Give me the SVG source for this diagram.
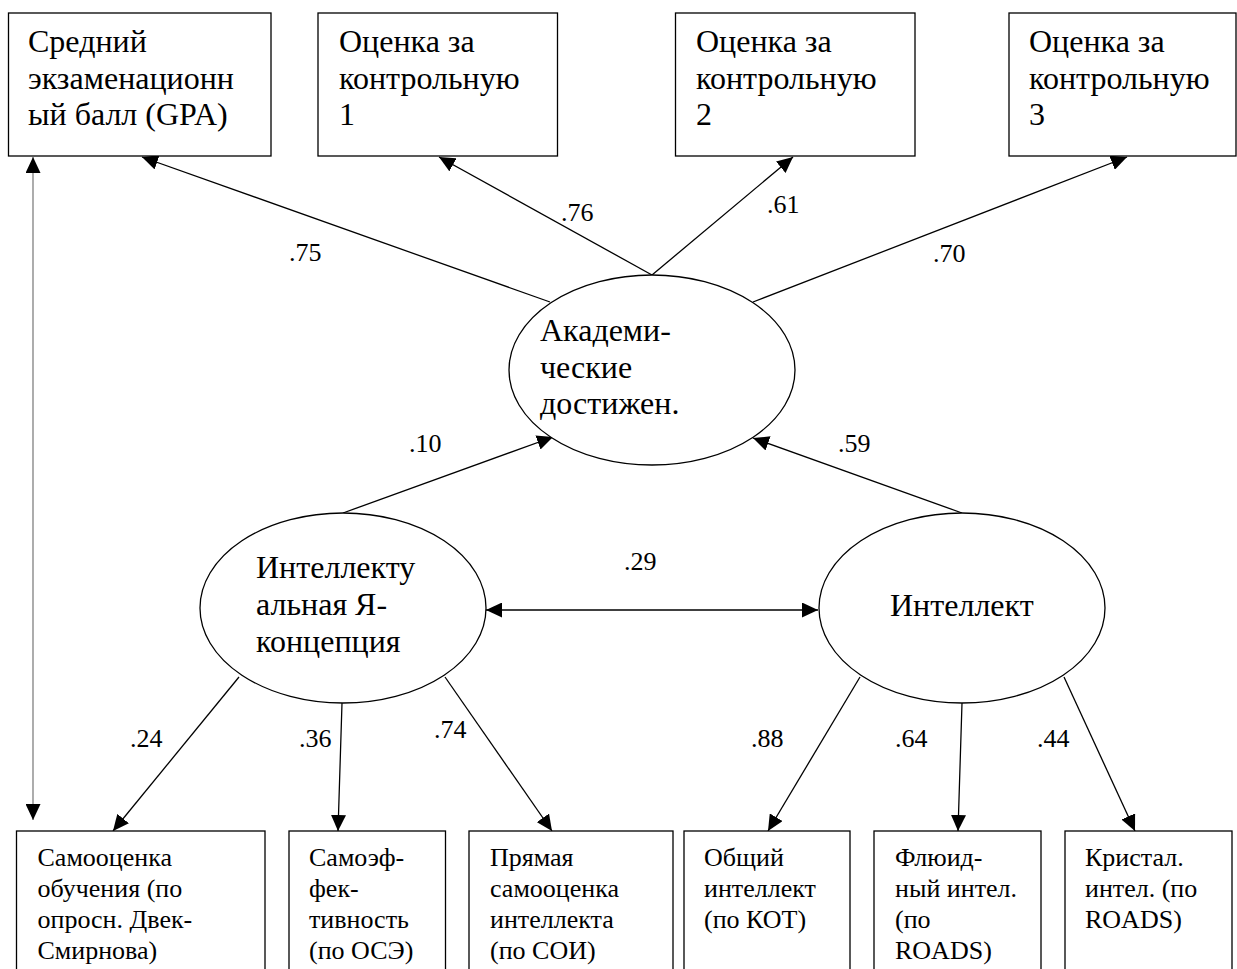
<svg xmlns="http://www.w3.org/2000/svg" width="1237" height="969" viewBox="0 0 1237 969">
<style>
.box{fill:#fff;stroke:#000;stroke-width:1.3}
.ell{fill:#fff;stroke:#000;stroke-width:1.3}
.t{font-family:"Liberation Serif","Times New Roman",serif;font-size:32px;fill:#000}
.tb{font-family:"Liberation Serif","Times New Roman",serif;font-size:26px;fill:#000}
.lab{font-family:"Liberation Serif","Times New Roman",serif;font-size:26px;fill:#000}
.c{stroke:#000;stroke-width:1.3;fill:none}
.g{stroke:#808080;stroke-width:1.3;fill:none}
</style>
<defs>
<marker id="ah" viewBox="0 0 16 15" refX="16" refY="7.5" markerWidth="16" markerHeight="15" markerUnits="userSpaceOnUse" orient="auto-start-reverse">
<path d="M0,0 L16,7.5 L0,15 z" fill="#000"/>
</marker>
</defs>
<rect width="1237" height="969" fill="#fff"/>

<g id="connectors">
<line class="c" x1="550" y1="302" x2="142" y2="157" marker-end="url(#ah)"/>
<line class="c" x1="652" y1="275" x2="439" y2="157" marker-end="url(#ah)"/>
<line class="c" x1="652" y1="275" x2="793" y2="157" marker-end="url(#ah)"/>
<line class="c" x1="753" y1="302" x2="1127" y2="157" marker-end="url(#ah)"/>
<line class="c" x1="343" y1="513" x2="553" y2="437" marker-end="url(#ah)"/>
<line class="c" x1="962" y1="513" x2="753" y2="438" marker-end="url(#ah)"/>
<line class="c" x1="486" y1="610" x2="818" y2="610" marker-start="url(#ah)" marker-end="url(#ah)"/>
<line class="c" x1="239" y1="677" x2="113" y2="831" marker-end="url(#ah)"/>
<line class="c" x1="342" y1="703" x2="338" y2="831" marker-end="url(#ah)"/>
<line class="c" x1="445" y1="677" x2="552" y2="831" marker-end="url(#ah)"/>
<line class="c" x1="860" y1="677" x2="768" y2="831" marker-end="url(#ah)"/>
<line class="c" x1="962" y1="703" x2="958" y2="831" marker-end="url(#ah)"/>
<line class="c" x1="1064" y1="677" x2="1135" y2="831" marker-end="url(#ah)"/>
<line class="g" x1="33" y1="157" x2="33" y2="820" marker-start="url(#ah)" marker-end="url(#ah)"/>
<text class="lab" x="289" y="261">.75</text>
<text class="lab" x="561" y="221">.76</text>
<text class="lab" x="767" y="213">.61</text>
<text class="lab" x="933" y="262">.70</text>
<text class="lab" x="409" y="452">.10</text>
<text class="lab" x="838" y="452">.59</text>
<text class="lab" x="624" y="570">.29</text>
<text class="lab" x="130" y="747">.24</text>
<text class="lab" x="299" y="747">.36</text>
<text class="lab" x="434" y="738">.74</text>
<text class="lab" x="751" y="747">.88</text>
<text class="lab" x="895" y="747">.64</text>
<text class="lab" x="1037" y="747">.44</text>
</g>

<g id="gpa">
<rect class="box" x="8.5" y="13" width="262.5" height="143"/>
<text class="t" x="28" y="52">Средний</text>
<text class="t" x="28" y="88.5">экзаменационн</text>
<text class="t" x="28" y="125">ый балл (GPA)</text>
</g>
<g id="test1">
<rect class="box" x="318" y="13" width="239.5" height="143"/>
<text class="t" x="339" y="52">Оценка за</text>
<text class="t" x="339" y="88.5">контрольную</text>
<text class="t" x="339" y="125">1</text>
</g>
<g id="test2">
<rect class="box" x="675.5" y="13" width="239.5" height="143"/>
<text class="t" x="696" y="52">Оценка за</text>
<text class="t" x="696" y="88.5">контрольную</text>
<text class="t" x="696" y="125">2</text>
</g>
<g id="test3">
<rect class="box" x="1009" y="13" width="227" height="143"/>
<text class="t" x="1029" y="52">Оценка за</text>
<text class="t" x="1029" y="88.5">контрольную</text>
<text class="t" x="1029" y="125">3</text>
</g>

<g id="academic">
<ellipse class="ell" cx="652" cy="370" rx="143" ry="95"/>
<text class="t" x="540" y="341">Академи-</text>
<text class="t" x="540" y="378">ческие</text>
<text class="t" x="540" y="414">достижен.</text>
</g>
<g id="selfconcept">
<ellipse class="ell" cx="343" cy="608" rx="143" ry="95"/>
<text class="t" x="256" y="578">Интеллекту</text>
<text class="t" x="256" y="615">альная Я-</text>
<text class="t" x="256" y="652">концепция</text>
</g>
<g id="intellect">
<ellipse class="ell" cx="962" cy="608" rx="143" ry="95"/>
<text class="t" x="890" y="616">Интеллект</text>
</g>

<g id="b1">
<rect class="box" x="16.5" y="831" width="248.5" height="160"/>
<text class="tb" x="37.5" y="866">Самооценка</text>
<text class="tb" x="37.5" y="897">обучения (по</text>
<text class="tb" x="37.5" y="928">опросн. Двек-</text>
<text class="tb" x="37.5" y="959">Смирнова)</text>
</g>
<g id="b2">
<rect class="box" x="289" y="831" width="156.5" height="160"/>
<text class="tb" x="309" y="866">Самоэф-</text>
<text class="tb" x="309" y="897">фек-</text>
<text class="tb" x="309" y="928">тивность</text>
<text class="tb" x="309" y="959">(по ОСЭ)</text>
</g>
<g id="b3">
<rect class="box" x="469" y="831" width="204" height="160"/>
<text class="tb" x="490" y="866">Прямая</text>
<text class="tb" x="490" y="897">самооценка</text>
<text class="tb" x="490" y="928">интеллекта</text>
<text class="tb" x="490" y="959">(по СОИ)</text>
</g>
<g id="b4">
<rect class="box" x="684" y="831" width="166" height="160"/>
<text class="tb" x="704" y="866">Общий</text>
<text class="tb" x="704" y="897">интеллект</text>
<text class="tb" x="704" y="928">(по КОТ)</text>
</g>
<g id="b5">
<rect class="box" x="874" y="831" width="167" height="160"/>
<text class="tb" x="895" y="866">Флюид-</text>
<text class="tb" x="895" y="897">ный интел.</text>
<text class="tb" x="895" y="928">(по</text>
<text class="tb" x="895" y="959">ROADS)</text>
</g>
<g id="b6">
<rect class="box" x="1065" y="831" width="167" height="160"/>
<text class="tb" x="1085" y="866">Кристал.</text>
<text class="tb" x="1085" y="897">интел. (по</text>
<text class="tb" x="1085" y="928">ROADS)</text>
</g>
</svg>
